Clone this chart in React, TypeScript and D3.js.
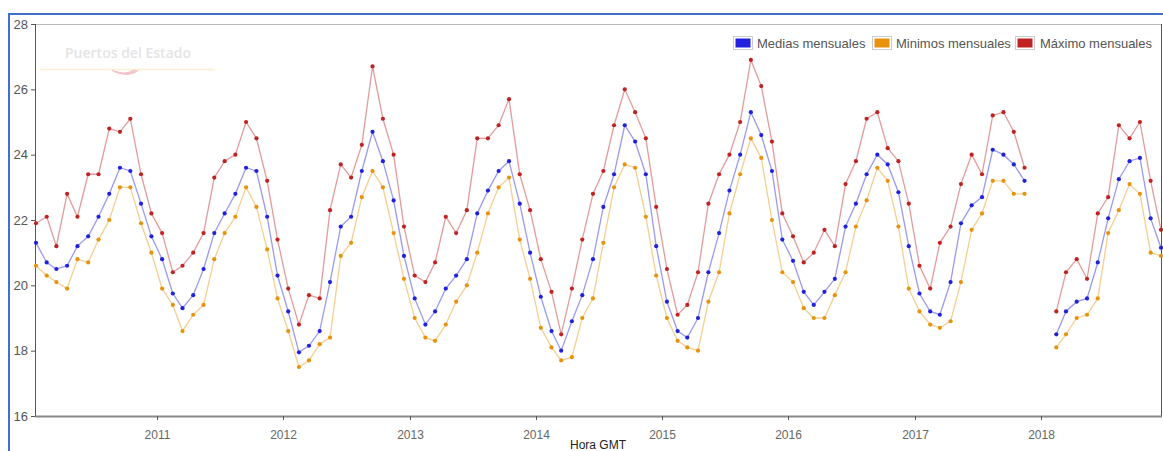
import React, { useEffect, useRef } from "react";
import * as d3 from "d3";

const years = [2010, 2011, 2012, 2013, 2014, 2015, 2016, 2017, 2018];
const tickYears = [2011, 2012, 2013, 2014, 2015, 2016, 2017, 2018];
const yTicks = [16, 18, 20, 22, 24, 26, 28];

const mediaValues: (number | null)[] = [
  21.3, 20.7, 20.5, 20.6, 21.2, 21.5, 22.1, 22.8, 23.6, 23.5, 22.5, 21.5,
  20.8, 19.75, 19.3, 19.7, 20.5, 21.6, 22.2, 22.8, 23.6, 23.5, 22.1, 20.3,
  19.2, 17.95, 18.15, 18.6, 20.1, 21.8, 22.1, 23.5, 24.7, 23.8, 22.6, 20.9,
  19.6, 18.8, 19.2, 19.9, 20.3, 20.8, 22.2, 22.9, 23.5, 23.8, 22.5, 21.0,
  19.65, 18.6, 18.0, 18.9, 19.7, 20.8, 22.4, 23.4, 24.9, 24.4, 23.4, 21.2,
  19.5, 18.6, 18.4, 19.0, 20.4, 21.6, 22.9, 24.0, 25.3, 24.6, 23.5, 21.4,
  20.75, 19.8, 19.4, 19.8, 20.2, 21.8, 22.5, 23.4, 24.0, 23.7, 22.85, 21.2,
  19.75, 19.2, 19.1, 20.1, 21.9, 22.45, 22.7, 24.15, 24.0, 23.7, 23.2, null,
  null, 18.5, 19.2, 19.5, 19.6, 20.7, 22.05, 23.25, 23.8, 23.9, 22.05, 21.15,
];

const minimoValues: (number | null)[] = [
  20.6, 20.3, 20.1, 19.9, 20.8, 20.7, 21.4, 22.0, 23.0, 23.0, 21.9, 21.0,
  19.9, 19.4, 18.6, 19.1, 19.4, 20.8, 21.6, 22.1, 23.0, 22.4, 21.1, 19.6,
  18.6, 17.5, 17.7, 18.2, 18.4, 20.9, 21.3, 22.7, 23.5, 23.0, 21.6, 20.2,
  19.0, 18.4, 18.3, 18.8, 19.5, 20.0, 21.0, 22.2, 23.0, 23.3, 21.4, 20.2,
  18.7, 18.1, 17.7, 17.8, 19.0, 19.6, 21.3, 23.0, 23.7, 23.6, 22.1, 20.3,
  19.0, 18.3, 18.1, 18.0, 19.5, 20.4, 22.2, 23.4, 24.5, 23.9, 22.0, 20.4,
  20.1, 19.3, 19.0, 19.0, 19.7, 20.4, 21.8, 22.6, 23.6, 23.2, 21.8, 19.9,
  19.2, 18.8, 18.7, 18.9, 20.1, 21.7, 22.2, 23.2, 23.2, 22.8, 22.8, null,
  null, 18.1, 18.5, 19.0, 19.1, 19.6, 21.6, 22.3, 23.1, 22.8, 21.0, 20.9,
];

const maximoValues: (number | null)[] = [
  21.9, 22.1, 21.2, 22.8, 22.1, 23.4, 23.4, 24.8, 24.7, 25.1, 23.4, 22.2,
  21.6, 20.4, 20.6, 21.0, 21.6, 23.3, 23.8, 24.0, 25.0, 24.5, 23.2, 21.4,
  19.9, 18.8, 19.7, 19.6, 22.3, 23.7, 23.3, 24.3, 26.7, 25.1, 24.0, 21.8,
  20.3, 20.1, 20.7, 22.1, 21.6, 22.3, 24.5, 24.5, 24.9, 25.7, 23.4, 22.3,
  20.8, 19.8, 18.5, 19.9, 21.4, 22.8, 23.5, 24.9, 26.0, 25.3, 24.5, 22.4,
  20.5, 19.1, 19.4, 20.4, 22.5, 23.4, 24.0, 25.0, 26.9, 26.1, 24.4, 22.2,
  21.5, 20.7, 21.0, 21.7, 21.2, 23.1, 23.8, 25.1, 25.3, 24.2, 23.8, 22.5,
  20.6, 19.9, 21.3, 21.8, 23.1, 24.0, 23.4, 25.2, 25.3, 24.7, 23.6, null,
  null, 19.2, 20.4, 20.8, 20.2, 22.2, 22.7, 24.9, 24.5, 25.0, 23.2, 21.7,
];

const seriesNames = ["Medias mensuales", "Minimos mensuales", "Máximo mensuales"];
const seriesColors = ["#2020dd", "#e8920c", "#c02222"];

const W = 1163;
const H = 451;
const left = 35;
const right = 1161;
const top = 24;
const bottom = 416;

export default function App() {
  const ref = useRef<SVGSVGElement>(null);

  useEffect(() => {
    const svg = d3.select(ref.current);
    svg.selectAll("*").remove();

    const dates: Date[] = [];
    years.forEach((yr) => {
      for (let m = 0; m < 12; m++) dates.push(new Date(yr, m, 15));
    });

    const x = d3
      .scaleTime()
      .domain([dates[0], dates[dates.length - 1]])
      .range([36, 1161]);
    const y = d3.scaleLinear().domain([16, 28]).range([bottom, top]);

    // outer blue frame
    svg
      .append("path")
      .attr("d", `M9,${H + 5} L9,14 L${W + 5},14`)
      .attr("fill", "none")
      .attr("stroke", "#3f6fcf")
      .attr("stroke-width", 2);

    // watermark
    const wm = svg.append("g");
    wm.append("text")
      .attr("x", 65)
      .attr("y", 58)
      .attr("font-family", "'Open Sans', sans-serif")
      .attr("font-weight", 600)
      .attr("font-size", 14)
      .attr("fill", "#e4e4e4")
      .text("Puertos del Estado");
    wm.append("line")
      .attr("x1", 40)
      .attr("x2", 215)
      .attr("y1", 69.5)
      .attr("y2", 69.5)
      .attr("stroke", "#fcefd2")
      .attr("stroke-width", 1.5);
    [0, 4, 8].forEach((o) => {
      wm.append("path")
        .attr("d", `M${112 + o},${70 + o * 0.3} Q${122 + o},${77} ${134 + o * 0.5},${70}`)
        .attr("fill", "none")
        .attr("stroke", "#f6c0ca")
        .attr("stroke-width", 1.3);
    });

    // plot frame
    svg.append("line")
      .attr("x1", left).attr("x2", right).attr("y1", top + 0.5).attr("y2", top + 0.5)
      .attr("stroke", "#bbbbbb");
    svg.append("line")
      .attr("x1", right + 0.5).attr("x2", right + 0.5).attr("y1", top).attr("y2", bottom)
      .attr("stroke", "#555555");

    // y axis
    const yAxis = svg.append("g");
    yAxis.append("line")
      .attr("x1", left + 0.5).attr("x2", left + 0.5).attr("y1", top).attr("y2", bottom)
      .attr("stroke", "#555555");
    yTicks.forEach((t) => {
      yAxis.append("line")
        .attr("x1", left - 4).attr("x2", left).attr("y1", y(t) + 0.5).attr("y2", y(t) + 0.5)
        .attr("stroke", "#555555");
      yAxis.append("text")
        .attr("x", 28)
        .attr("y", y(t) + 4.5)
        .attr("text-anchor", "end")
        .attr("font-family", "'Liberation Sans', Arial, sans-serif")
        .attr("font-size", 13)
        .attr("fill", "#555555")
        .text(String(t));
    });

    // x axis
    const xAxis = svg.append("g");
    xAxis.append("line")
      .attr("x1", left).attr("x2", right + 1).attr("y1", bottom + 0.5).attr("y2", bottom + 0.5)
      .attr("stroke", "#888888").attr("stroke-width", 2);
    tickYears.forEach((yr) => {
      const px = Math.round(x(new Date(yr, 0, 1))) + 0.5;
      xAxis.append("line")
        .attr("x1", px).attr("x2", px).attr("y1", bottom).attr("y2", bottom + 4)
        .attr("stroke", "#555555");
      xAxis.append("text")
        .attr("x", px)
        .attr("y", 439)
        .attr("text-anchor", "middle")
        .attr("font-family", "'Liberation Sans', Arial, sans-serif")
        .attr("font-size", 12)
        .attr("fill", "#666666")
        .text(String(yr));
    });
    svg.append("text")
      .attr("x", (left + right) / 2)
      .attr("y", 449)
      .attr("text-anchor", "middle")
      .attr("font-family", "'Liberation Sans', Arial, sans-serif")
      .attr("font-size", 12)
      .attr("fill", "#222222")
      .text("Hora GMT");

    const allSeries = [mediaValues, minimoValues, maximoValues];
    const order = [2, 1, 0];
    order.forEach((si) => {
      const vals = allSeries[si];
      const pts = vals.map((v, i) => ({ d: dates[i], v }));
      const line = d3
        .line<{ d: Date; v: number | null }>()
        .defined((p) => p.v !== null)
        .x((p) => x(p.d))
        .y((p) => y(p.v as number));
      svg.append("path")
        .datum(pts)
        .attr("d", line)
        .attr("fill", "none")
        .attr("stroke", seriesColors[si])
        .attr("stroke-opacity", 0.45)
        .attr("stroke-width", 1.3);
      svg.append("g")
        .selectAll("circle")
        .data(pts.filter((p) => p.v !== null))
        .join("circle")
        .attr("cx", (p) => x(p.d))
        .attr("cy", (p) => y(p.v as number))
        .attr("r", 2.1)
        .attr("fill", seriesColors[si]);
    });

    // legend
    const boxX = [733, 872, 1015];
    const textX = [757, 896, 1040];
    const lg = svg.append("g");
    seriesNames.forEach((name, i) => {
      lg.append("rect")
        .attr("x", boxX[i] + 0.5).attr("y", 36.5).attr("width", 19).attr("height", 13)
        .attr("fill", "#ffffff").attr("stroke", "#cccccc");
      lg.append("rect")
        .attr("x", boxX[i] + 2.5).attr("y", 38.5).attr("width", 15).attr("height", 9)
        .attr("fill", seriesColors[i]);
      lg.append("text")
        .attr("x", textX[i])
        .attr("y", 48)
        .attr("font-family", "'Liberation Sans', Arial, sans-serif")
        .attr("font-size", 13)
        .attr("fill", "#555555")
        .text(name);
    });
  }, []);

  return (
    <svg
      ref={ref}
      width={W}
      height={H}
      style={{ position: "absolute", left: 0, top: 0, background: "#ffffff" }}
    />
  );
}
